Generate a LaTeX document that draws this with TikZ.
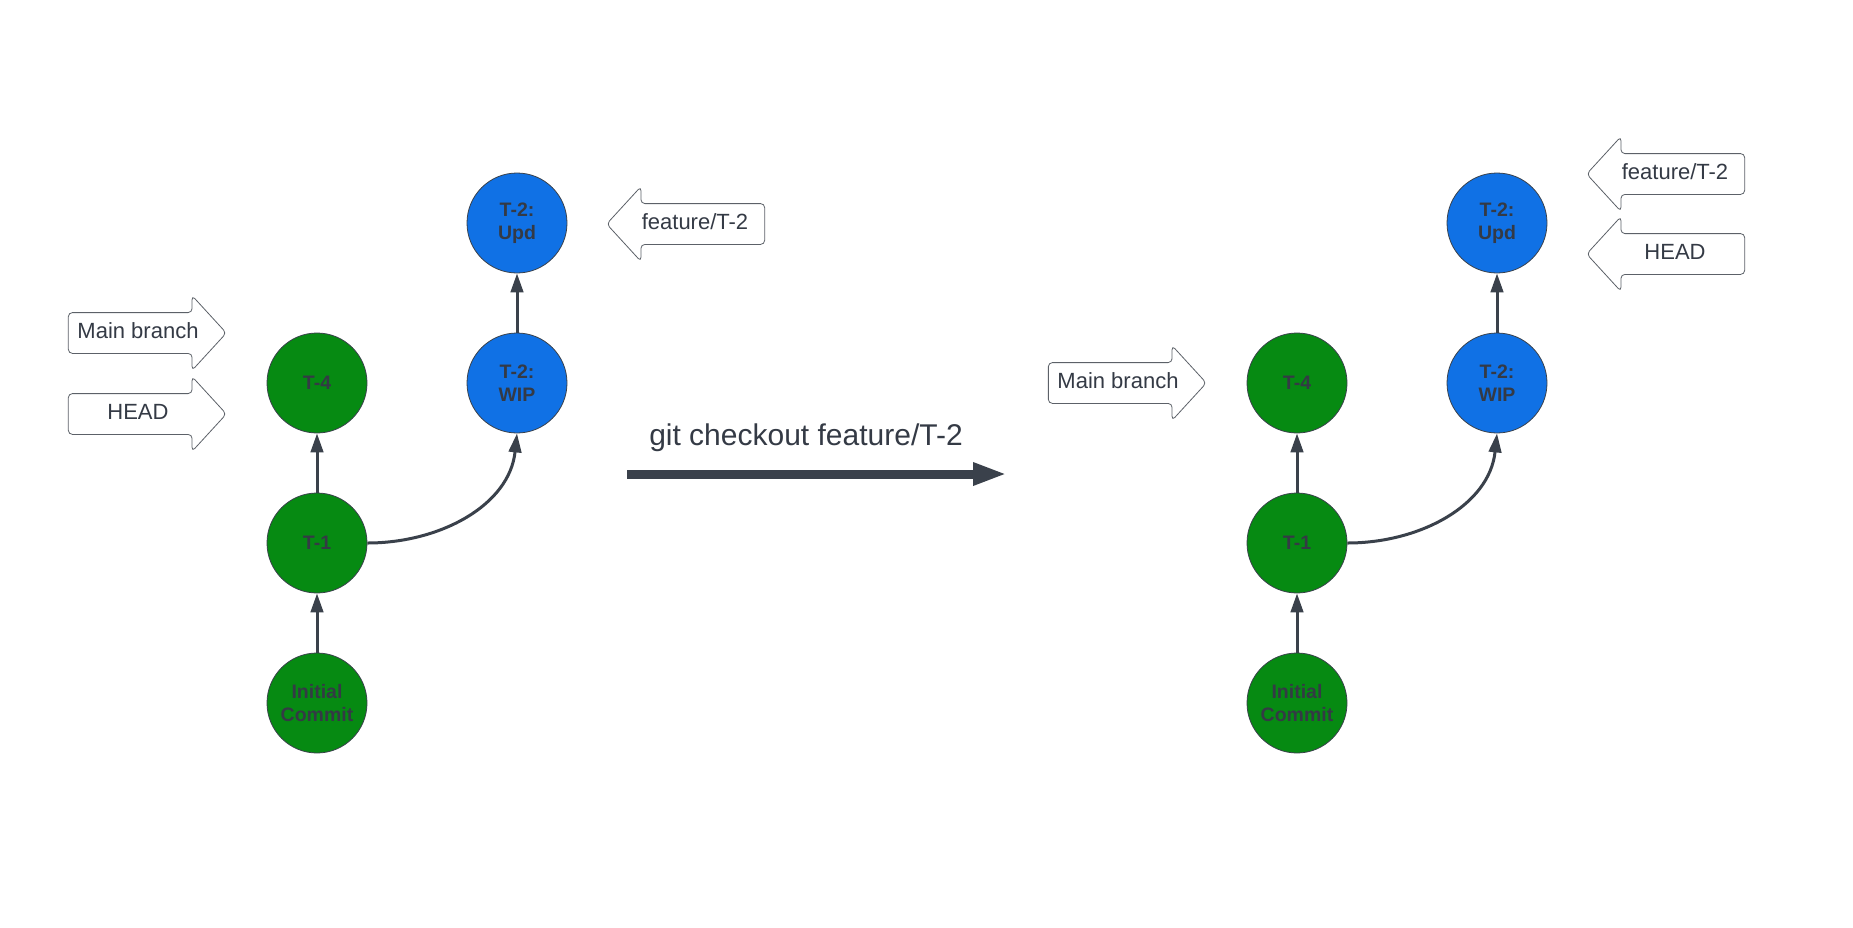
\documentclass[tikz,border=0pt]{standalone}
\usepackage{fontspec}
\setmainfont{Liberation Sans}
\usetikzlibrary{arrows.meta,shapes.arrows}

\definecolor{commitgreen}{HTML}{068A12}
\definecolor{commitblue}{HTML}{1071E5}
\definecolor{linkgray}{HTML}{3A414B}
\definecolor{textgray}{HTML}{343A45}
\definecolor{flaggray}{HTML}{5C6168}

\tikzset{
  commit/.style={circle, draw=linkgray, line width=0.8pt, minimum size=100pt, inner sep=0pt,
    align=center, text=textgray, font=\bfseries\fontsize{19.5}{23}\selectfont},
  oncommit/.style={commit, fill=commitgreen},
  featcommit/.style={commit, fill=commitblue},
  link/.style={draw=linkgray, line width=3pt, -{Triangle[length=19pt,width=12.5pt]}},
  flag/.style={shape=single arrow, draw=flaggray, line width=0.8pt, fill=white, rounded corners=4pt,
    minimum height=158pt, single arrow head extend=17pt, single arrow tip angle=95,
    inner xsep=4pt, inner ysep=10pt, text height=15pt, text depth=5pt, text=textgray,
    font=\fontsize{22}{26}\selectfont},
  flagleft/.style={flag, shape border rotate=180},
  bigarrow/.style={draw=linkgray, line width=9pt, -{Triangle[length=34pt,width=21pt]}}
}

\begin{document}
\begin{tikzpicture}[x=1pt,y=-1pt]
	\useasboundingbox (0,0) rectangle (1853,927);
	% before checkout
	\node[oncommit] (init) at (317,703) {Initial\\Commit};
	\node[oncommit] (t1) at (317,543) {T-1};
	\node[oncommit] (t4) at (317,383) {T-4};
	\node[featcommit] (wip) at (517,383) {T-2:\\WIP};
	\node[featcommit] (upd) at (517,223) {T-2:\\Upd};
	\draw[link] (init) -- (t1);
	\draw[link] (t1) -- (t4);
	\draw[link] (wip) -- (upd);
	\draw[link] (t1.east) to[out=0,in=-96] (wip.south);
	\node[flag] (main) at (138,333) {Main branch};
	\node[flag] (head) at (138,414) {HEAD};
	\node[flagleft] (feat) at (695,224) {feature/T-2};
	% the command
	\coordinate (cmdstart) at (627,474);
	\coordinate (cmdend) at (1007,474);
	\draw[bigarrow] (cmdstart) -- (cmdend);
	\node[text=textgray, font=\fontsize{30}{36}\selectfont] (cmd) at (806,438) {git checkout feature/T-2};
	% after checkout
	\node[oncommit] (init2) at (1297,703) {Initial\\Commit};
	\node[oncommit] (t12) at (1297,543) {T-1};
	\node[oncommit] (t42) at (1297,383) {T-4};
	\node[featcommit] (wip2) at (1497,383) {T-2:\\WIP};
	\node[featcommit] (upd2) at (1497,223) {T-2:\\Upd};
	\draw[link] (init2) -- (t12);
	\draw[link] (t12) -- (t42);
	\draw[link] (wip2) -- (upd2);
	\draw[link] (t12.east) to[out=0,in=-96] (wip2.south);
	\node[flag] (main2) at (1118,383) {Main branch};
	\node[flagleft] (feat2) at (1675,174) {feature/T-2};
	\node[flagleft] (head2) at (1675,254) {HEAD};
\end{tikzpicture}
\end{document}
